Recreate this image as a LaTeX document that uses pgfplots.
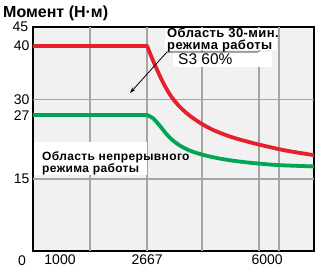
\documentclass[border=0pt]{standalone}
\usepackage{pgfplots}
\pgfplotsset{compat=1.18}
\usepackage{fontspec}
\setmainfont{Liberation Sans}
\newfontfamily\annfont[LetterSpace=3]{Liberation Sans}
\usetikzlibrary{arrows.meta}
\definecolor{cred}{RGB}{232,32,44}
\definecolor{cgreen}{RGB}{0,166,82}
\definecolor{bg}{RGB}{241,241,241}
\definecolor{gridc}{RGB}{165,165,165}
\begin{document}
\begin{tikzpicture}
\useasboundingbox (-33pt,-25pt) rectangle (290pt,251pt);
\begin{axis}[at={(0,0)}, anchor=south west, scale only axis, width=281pt, height=224pt,
 xmin=-500, xmax=7300, ymin=1.47, ymax=43.57,
 xtick={1000,2667,6000},
 xticklabels={\makebox[0pt]{\hspace*{-54pt}1000},2667,6000},
 ytick={15,27,30,40},
 major tick length=0pt,
 extra x ticks={1080,2667,4190,5770,6330}, extra x tick labels={},
 extra y ticks={15,30}, extra y tick labels={},
 extra tick style={grid=major, major tick length=0pt},
 major grid style={draw=gridc, line width=1.4pt},
 axis line style={line width=1.6pt},
 axis background/.style={fill=bg},
 tick label style={font=\fontsize{14}{14}\selectfont},
 /pgf/number format/assume math mode=true,
]
\addplot[cred, line width=3.8pt, line cap=round] coordinates {(-500,40) (2667,40)};
\addplot[cred, line width=3.8pt, line cap=round, smooth, tension=0.5] coordinates {(2667,40) (2748,38.62) (2886,36.41) (3025,34.32) (3164,32.44) (3358,30.31) (3580,28.53) (3858,26.86) (4191,25.33) (4496,24.23) (4885,23.18) (5163,22.57) (5607,21.75) (6079,20.99) (6550,20.31) (7300,19.48)};
\addplot[cgreen, line width=3.8pt, line cap=round] coordinates {(-500,27) (2667,27)};
\addplot[cgreen, line width=3.8pt, line cap=round, smooth, tension=0.5] coordinates {(2667,27) (2831,26.43) (3025,24.97) (3192,23.55) (3358,22.39) (3580,21.28) (3858,20.33) (4219,19.54) (4691,18.83) (5246,18.27) (5801,17.88) (6356,17.6) (7300,17.36)};
\end{axis}
% annotations
\fill[white] (132pt,201pt) rectangle (244pt,223pt);
\fill[white] (140pt,184pt) rectangle (239pt,199pt);
\node[anchor=base west, inner sep=0, font=\annfont\bfseries\fontsize{13}{13}\selectfont] at (134pt,213pt) {Область 30-мин.};
\node[anchor=base west, inner sep=0, font=\annfont\bfseries\fontsize{13}{13}\selectfont] at (134pt,201.5pt) {режима работы};
\node[anchor=base west, inner sep=0, font=\fontsize{15.5}{15.5}\selectfont] at (145pt,186pt) {S3 60\%};
\draw[line width=0.8pt, -{Stealth[length=6pt,width=4pt]}] (225pt,199pt) -- (134pt,199pt) -- (97pt,158pt);
\fill[white] (0.8pt,76pt) rectangle (114pt,109pt);
\node[anchor=base west, inner sep=0, font=\annfont\bfseries\fontsize{12}{12}\selectfont] at (9pt,91pt) {Область непрерывного};
\node[anchor=base west, inner sep=0, font=\annfont\bfseries\fontsize{12}{12}\selectfont] at (9pt,79pt) {режима работы};
% title and corner labels
\node[anchor=base west, inner sep=0, font=\bfseries\fontsize{16}{16}\selectfont] at (-30pt,233pt) {Момент (Н·м)};
\node[anchor=east, inner sep=4.7pt, font=\fontsize{14}{14}\selectfont] at (0,224pt) {45};
\node[anchor=north, inner sep=4.7pt, font=\fontsize{14}{14}\selectfont] at (-11pt,0) {0};
\end{tikzpicture}
\end{document}
